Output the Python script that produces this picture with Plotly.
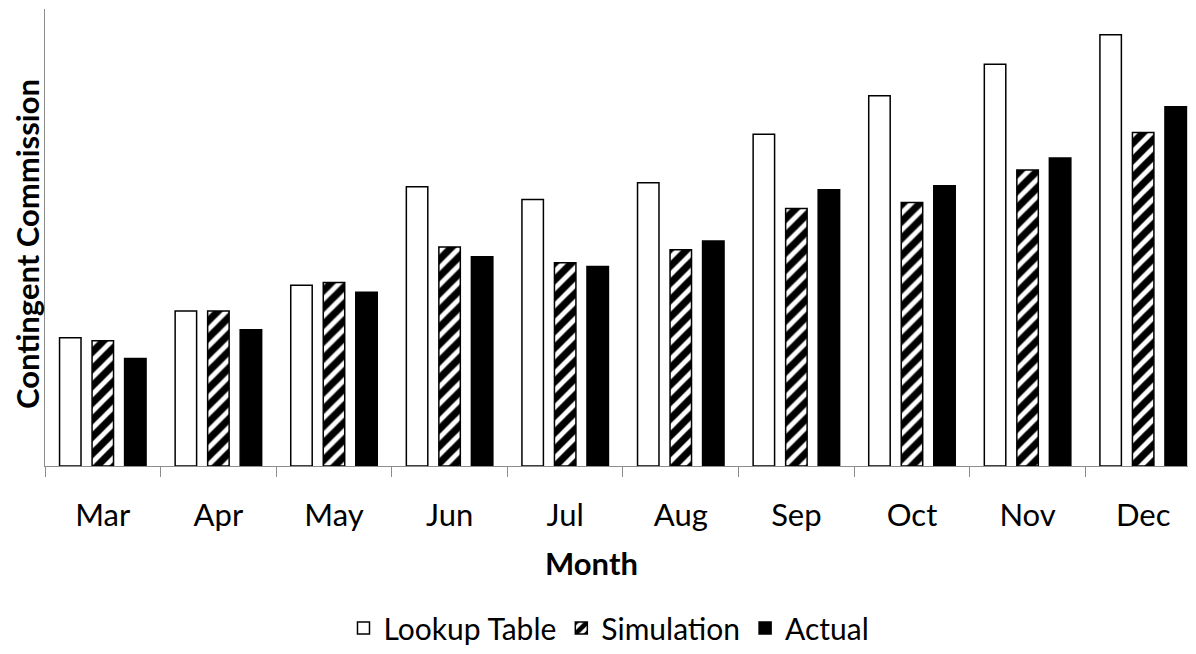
import plotly.graph_objects as go

months = ["Mar", "Apr", "May", "Jun", "Jul", "Aug", "Sep", "Oct", "Nov", "Dec"]
lookup_table = [130, 157, 183, 283, 270, 287, 336, 375, 407, 437]
simulation = [127, 157, 186, 222, 206, 219, 261, 267, 300, 338]
actual = [109, 138, 176, 212, 202, 228, 280, 284, 312, 364]

FONT = "Lato"
AXIS_GREY = "#8c8c8c"

fig = go.Figure()
fig.add_trace(go.Bar(
    name="Lookup Table", x=months, y=lookup_table,
    marker=dict(color="white", line=dict(color="black", width=1.5)),
))
fig.add_trace(go.Bar(
    name="Simulation", x=months, y=simulation,
    marker=dict(color="white", line=dict(color="black", width=1.5),
                pattern=dict(shape="/", fgcolor="black", bgcolor="white",
                             fgopacity=1, fillmode="replace",
                             size=12, solidity=0.6)),
))
fig.add_trace(go.Bar(
    name="Actual", x=months, y=actual,
    marker=dict(color="black", line=dict(color="black", width=1.5)),
))

fig.update_layout(
    width=1188, height=646,
    margin=dict(l=37, r=0, t=1, b=182),
    paper_bgcolor="white", plot_bgcolor="white",
    barmode="group", bargap=0.156, bargroupgap=0.34,
    font=dict(family=FONT, color="black", size=30),
    showlegend=True,
    legend=dict(orientation="h", x=0.49, xanchor="center", y=-0.355, yanchor="middle",
                font=dict(size=30), itemwidth=30, traceorder="normal"),
    xaxis=dict(
        range=[-0.5, 9.457],
        showline=True, linecolor=AXIS_GREY, linewidth=1,
        ticks="outside", ticklen=10, tickcolor=AXIS_GREY, tickson="boundaries",
        tickfont=dict(size=31), ticklabelstandoff=22,
        showgrid=False, zeroline=False,
    ),
    yaxis=dict(
        range=[0, 463], showticklabels=False, showgrid=False, zeroline=False,
        showline=True, linecolor=AXIS_GREY, linewidth=1, ticks="",
    ),
    annotations=[
        dict(text="<b>Month</b>", xref="paper", yref="paper", x=0.475, y=-0.212,
             xanchor="center", yanchor="middle", showarrow=False, font=dict(size=31)),
        dict(text="<b>Contingent Commission</b>", xref="paper", yref="paper",
             x=0, y=0.486, xshift=-18, xanchor="center", yanchor="middle",
             textangle=-90, showarrow=False, font=dict(size=31)),
    ],
)

fig.write_html("out.html")
